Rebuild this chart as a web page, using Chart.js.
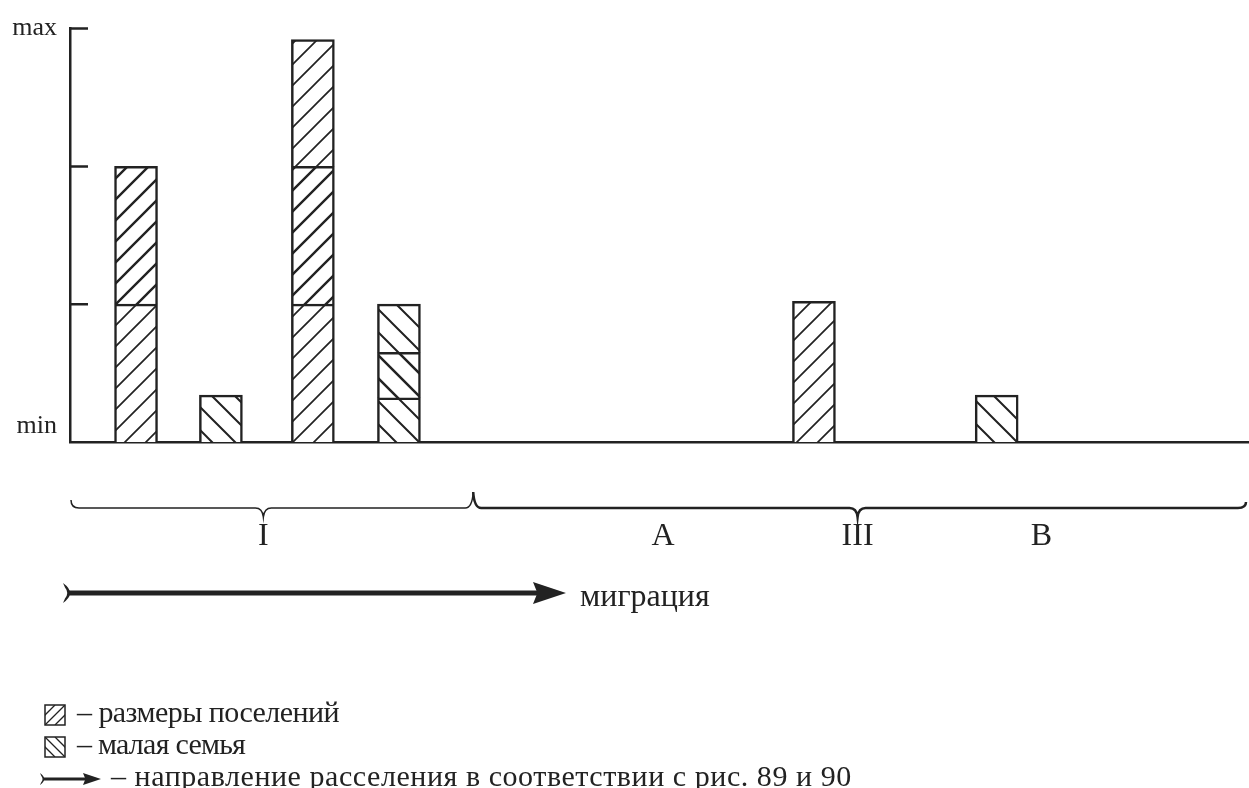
<!DOCTYPE html>
<html>
<head>
<meta charset="utf-8">
<script src="https://cdn.jsdelivr.net/npm/chart.js@4.4.0/dist/chart.umd.min.js"></script>
<style>
  body { margin: 0; background: #fff; }
  #wrap { position: relative; width: 1249px; height: 788px; font-family: "Liberation Serif", serif; color: #222; }
  .txt { position: absolute; white-space: nowrap; }
  .leg { font-size: 30px; line-height: 34px; }
</style>
</head>
<body>
<div id="wrap">
  <canvas id="chart"></canvas>
  <div class="txt" style="left:580px;top:576px;font-size:32px;line-height:38px;">миграция</div>
  <div class="txt leg" style="left:77px;top:695px;letter-spacing:-0.55px;">– размеры поселений</div>
  <div class="txt leg" style="left:77px;top:727px;letter-spacing:-0.75px;">– малая семья</div>
  <div class="txt leg" style="left:111px;top:759px;letter-spacing:0.55px;">– направление расселения в соответствии с рис. 89 и 90</div>
</div>
<script>
// bar positions along the x axis (0..100) and kind of hatching
const barPos = [5.6, 12.8, 20.6, 27.9, 63.1, 78.6];
const barKind = ['size', 'family', 'size', 'family', 'size', 'family'];
// stacked segments, bottom to top
const segLow = [1, 0.34, 1, 0.32, 1.02, 0.34];
const segMid = [1, null, 1, 0.33, null, null];
const segTop = [null, null, 0.92, 0.35, null, null];

const groupLabels = ['I', 'A', 'III', 'B'];
const groupLabelPos = [16.4, 50.3, 66.8, 82.4];
const groupBounds = [0, 34.2, 100];
const braceApex = [16.4, 66.8];
const yTickValues = [0, 1, 2, 3];

const ink = '#222';
const ctx = document.getElementById('chart').getContext('2d');

function hatch(dir, lw, s) {
  const c = document.createElement('canvas');
  c.width = c.height = s;
  const g = c.getContext('2d');
  g.fillStyle = '#fff';
  g.fillRect(0, 0, s, s);
  g.strokeStyle = ink;
  g.lineWidth = lw;
  g.beginPath();
  if (dir === '/') {
    g.moveTo(-2, s + 2); g.lineTo(s + 2, -2);
    g.moveTo(-2, 2); g.lineTo(2, -2);
    g.moveTo(s - 2, s + 2); g.lineTo(s + 2, s - 2);
  } else {
    g.moveTo(-2, -2); g.lineTo(s + 2, s + 2);
    g.moveTo(s - 2, -2); g.lineTo(s + 2, 2);
    g.moveTo(-2, s - 2); g.lineTo(2, s + 2);
  }
  g.stroke();
  return ctx.createPattern(c, 'repeat');
}

const patterns = {
  size: hatch('/', 1.7, 21),
  sizeBold: hatch('/', 2.4, 21),
  family: hatch('\\', 2, 23),
  familyBold: hatch('\\', 2.5, 23)
};

function makeSet(values, bold) {
  const pts = [], colors = [];
  values.forEach((v, i) => {
    if (v === null) return;
    pts.push({ x: barPos[i], y: v });
    colors.push(patterns[barKind[i] + (bold ? 'Bold' : '')]);
  });
  return {
    data: pts,
    backgroundColor: colors,
    borderColor: ink,
    borderWidth: 2.5,
    barThickness: 43
  };
}

function brace(c, x1, x2, xm, y, lw, leftHook, rightHook) {
  c.lineWidth = lw;
  c.beginPath();
  if (leftHook) { c.moveTo(x1, y - 8); c.quadraticCurveTo(x1, y, x1 + 8, y); }
  else { c.moveTo(x1, y - 16); c.quadraticCurveTo(x1 + 1, y, x1 + 8, y); }
  c.lineTo(xm - 8, y);
  c.quadraticCurveTo(xm - 1, y, xm, y + 9);
  c.quadraticCurveTo(xm + 1, y, xm + 8, y);
  c.lineTo(x2 - 8, y);
  if (rightHook) c.quadraticCurveTo(x2, y, x2, y - 6);
  else c.quadraticCurveTo(x2 - 1, y, x2, y - 16);
  c.stroke();
}

function arrow(c, x1, x2, y, w, head, tail) {
  c.lineWidth = w;
  c.beginPath();
  c.moveTo(x1 + tail * 0.5, y);
  c.lineTo(x2 - head * 2, y);
  c.stroke();
  // tail shaped like a thick ")"
  c.beginPath();
  c.moveTo(x1, y - tail);
  c.quadraticCurveTo(x1 + tail * 1.4, y, x1, y + tail);
  c.lineTo(x1 + tail * 0.2, y + tail * 0.55);
  c.quadraticCurveTo(x1 + tail * 0.65, y, x1 + tail * 0.2, y - tail * 0.55);
  c.closePath();
  c.fill();
  c.beginPath();
  c.moveTo(x2, y);
  c.lineTo(x2 - head * 3, y - head);
  c.lineTo(x2 - head * 2.6, y);
  c.lineTo(x2 - head * 3, y + head);
  c.closePath();
  c.fill();
}

function legendBox(c, x, y, s, dir) {
  c.lineWidth = 1.5;
  c.strokeRect(x, y, s, s);
  c.save();
  c.beginPath();
  c.rect(x, y, s, s);
  c.clip();
  c.beginPath();
  for (let k = -1; k <= 1; k++) {
    const o = k * s * 0.5;
    if (dir === '/') { c.moveTo(x + o, y + s); c.lineTo(x + s + o, y); }
    else { c.moveTo(x + o, y); c.lineTo(x + s + o, y + s); }
  }
  c.lineWidth = 1.3;
  c.stroke();
  c.restore();
}

const annotations = {
  id: 'annotations',
  afterDraw(chart) {
    const c = chart.ctx;
    const x = chart.scales.x, y = chart.scales.y;
    c.save();
    c.strokeStyle = ink;
    c.fillStyle = ink;
    // inward tick marks on the value axis
    c.lineWidth = 2.5;
    c.beginPath();
    yTickValues.slice(1).forEach(v => {
      const py = y.getPixelForValue(v);
      c.moveTo(x.left - 1, py);
      c.lineTo(x.left + 18, py);
    });
    c.stroke();
    // braces and group labels
    brace(c, x.getPixelForValue(groupBounds[0]) + 1, x.getPixelForValue(groupBounds[1]),
      x.getPixelForValue(braceApex[0]), 508, 1.5, true, false);
    brace(c, x.getPixelForValue(groupBounds[1]), x.getPixelForValue(groupBounds[2]) - 3,
      x.getPixelForValue(braceApex[1]), 508, 2.5, false, true);
    c.font = '32px "Liberation Serif", serif';
    c.textAlign = 'center';
    c.textBaseline = 'alphabetic';
    groupLabels.forEach((t, i) => c.fillText(t, x.getPixelForValue(groupLabelPos[i]), 545));
    // migration arrow and legend symbols
    arrow(c, 63, 566, 593, 5, 11, 10);
    legendBox(c, 45, 705, 20, '/');
    legendBox(c, 45, 737, 20, '\\');
    arrow(c, 40, 101, 779, 3, 6, 6);
    c.restore();
  }
};

Chart.defaults.font.family = '"Liberation Serif", serif';
Chart.defaults.color = ink;

new Chart(ctx, {
  type: 'bar',
  data: {
    datasets: [makeSet(segLow, false), makeSet(segMid, true), makeSet(segTop, false)]
  },
  options: {
    responsive: true,
    maintainAspectRatio: false,
    animation: false,
    layout: { padding: { top: 28, right: 0, bottom: 346, left: 0 } },
    plugins: { legend: { display: false }, tooltip: { enabled: false } },
    scales: {
      x: {
        type: 'linear',
        min: 0,
        max: 100,
        offset: false,
        stacked: true,
        grid: { display: false, drawTicks: false, offset: false },
        border: { display: true, color: ink, width: 2.5 },
        ticks: { display: false }
      },
      y: {
        min: 0,
        max: 3,
        stacked: true,
        grid: { display: false, drawTicks: false },
        border: { display: true, color: ink, width: 2.5 },
        afterBuildTicks: s => { s.ticks = yTickValues.map(v => ({ value: v })); },
        afterFit: s => { s.width = 70; },
        ticks: {
          padding: 13,
          font: { size: 26 },
          callback: v => v === 3 ? 'max' : (v === 0 ? ['min', ''] : '')
        }
      }
    }
  },
  plugins: [annotations]
});
</script>
</body>
</html>
